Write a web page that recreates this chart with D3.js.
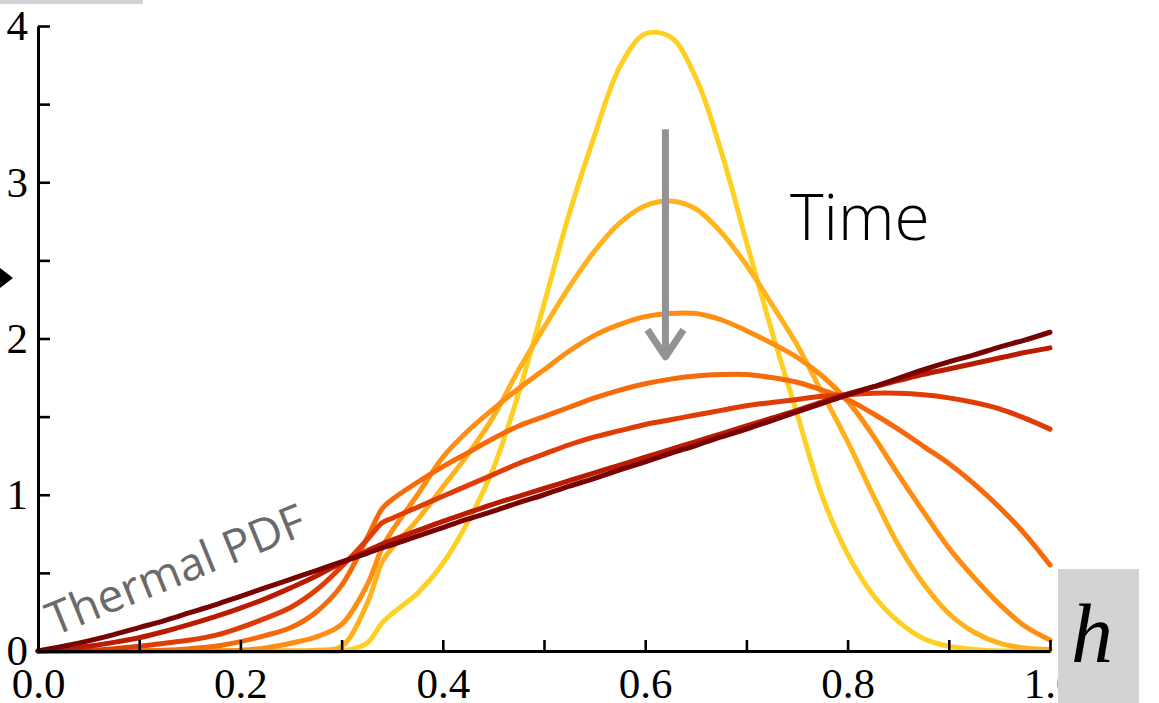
<!DOCTYPE html>
<html>
<head>
<meta charset="utf-8">
<script src="https://cdn.jsdelivr.net/npm/d3@7"></script>
<style>
  html, body { margin: 0; padding: 0; background: #fff; }
  svg { display: block; }
</style>
</head>
<body>
<svg id="chart" width="1159" height="703"></svg>
<script>
// Sample positions along h (extra point at the kink near h = 0.34)
const hValues = [0, 0.025, 0.05, 0.075, 0.1, 0.125, 0.15, 0.175, 0.2, 0.225, 0.25, 0.275, 0.3, 0.325, 0.34,
  0.35, 0.375, 0.4, 0.425, 0.45, 0.475, 0.5, 0.525, 0.55, 0.575, 0.6, 0.625, 0.65, 0.675, 0.7, 0.725,
  0.75, 0.775, 0.8, 0.825, 0.85, 0.875, 0.9, 0.925, 0.95, 0.975, 1.0];

// Probability density at successive times (earliest first, thermal last)
const pdf0 = [0, 0, 0, 0, 0, 0, 0, 0, 0, 0, 0, 0, 0, 0.05, 0.18,
  0.24, 0.37, 0.56, 0.83, 1.17, 1.65, 2.22, 2.8, 3.3, 3.74, 3.95, 3.93, 3.67, 3.2, 2.62, 2.05,
  1.52, 0.99, 0.62, 0.36, 0.19, 0.08, 0.03, 0.01, 0, 0, 0];
const pdf1 = [0, 0, 0, 0, 0, 0, 0, 0, 0, 0, 0, 0.005, 0.03, 0.3, 0.57,
  0.66, 0.84, 1.05, 1.26, 1.5, 1.8, 2.07, 2.33, 2.56, 2.74, 2.85, 2.88, 2.83, 2.68, 2.47, 2.22,
  1.96, 1.65, 1.34, 1.0, 0.68, 0.43, 0.24, 0.12, 0.05, 0.02, 0.01];
const pdf2 = [0, 0, 0, 0, 0, 0, 0, 0, 0.005, 0.02, 0.05, 0.09, 0.17, 0.42, 0.66,
  0.77, 1.0, 1.24, 1.41, 1.55, 1.68, 1.8, 1.92, 2.02, 2.09, 2.14, 2.16, 2.16, 2.12, 2.05, 1.97,
  1.88, 1.76, 1.6, 1.38, 1.13, 0.89, 0.66, 0.47, 0.3, 0.16, 0.07];
const pdf3 = [0, 0, 0, 0, 0, 0.005, 0.015, 0.03, 0.06, 0.1, 0.15, 0.25, 0.42, 0.72, 0.91,
  0.97, 1.08, 1.18, 1.27, 1.36, 1.44, 1.5, 1.56, 1.62, 1.67, 1.71, 1.74, 1.76, 1.77, 1.77, 1.75,
  1.72, 1.67, 1.61, 1.52, 1.42, 1.31, 1.2, 1.07, 0.92, 0.75, 0.55];
const pdf4 = [0, 0, 0.005, 0.015, 0.03, 0.05, 0.07, 0.1, 0.15, 0.21, 0.28, 0.39, 0.54, 0.71, 0.82,
  0.85, 0.92, 0.99, 1.06, 1.13, 1.2, 1.26, 1.32, 1.37, 1.41, 1.45, 1.48, 1.51, 1.54, 1.57, 1.59,
  1.61, 1.63, 1.64, 1.65, 1.65, 1.64, 1.62, 1.59, 1.55, 1.49, 1.42];
const pdf5 = [0, 0.01, 0.03, 0.055, 0.085, 0.125, 0.17, 0.22, 0.275, 0.335, 0.405, 0.48, 0.565, 0.64, 0.685,
  0.71, 0.77, 0.83, 0.885, 0.94, 0.99, 1.04, 1.09, 1.14, 1.19, 1.24, 1.29, 1.34, 1.39, 1.44, 1.49,
  1.54, 1.595, 1.645, 1.69, 1.73, 1.77, 1.805, 1.84, 1.875, 1.91, 1.94];
const pdf6 = [0, 0.03, 0.065, 0.105, 0.15, 0.195, 0.245, 0.295, 0.35, 0.405, 0.46, 0.515, 0.57, 0.625, 0.66,
  0.68, 0.735, 0.79, 0.845, 0.895, 0.95, 1.0, 1.055, 1.105, 1.16, 1.21, 1.265, 1.315, 1.37, 1.42, 1.475,
  1.53, 1.585, 1.64, 1.69, 1.745, 1.8, 1.85, 1.895, 1.945, 1.99, 2.04];

const pdfSeries = [pdf0, pdf1, pdf2, pdf3, pdf4, pdf5, pdf6];
const seriesColors = ["#ffd024", "#ffb21c", "#fe8d12", "#f66a0b", "#e03d06", "#ba1c02", "#780303"];

// Axis ticks
const xTicks = [0, 0.1, 0.2, 0.3, 0.4, 0.5, 0.6, 0.7, 0.8, 0.9, 1.0];
const xTickLabels = ["0.0", "", "0.2", "", "0.4", "", "0.6", "", "0.8", "", "1.0"];
const yTicks = [0, 0.5, 1, 1.5, 2, 2.5, 3, 3.5, 4];
const yTickLabels = ["0", "", "1", "", "2", "", "3", "", "4"];

const svg = d3.select("#chart");

const x = d3.scaleLinear().domain([0, 1]).range([38, 1050]);
const y = d3.scaleLinear().domain([0, 4]).range([651, 26]);

// Grey strip along the top-left edge and the small black pointer on the left
svg.append("rect").attr("x", 0).attr("y", 0).attr("width", 143).attr("height", 4).attr("fill", "#d3d3d3");
svg.append("path").attr("d", "M0,268 L13,278 L0,288 Z").attr("fill", "#000");

// Curves
const line = d3.line()
  .x((d, i) => x(hValues[i]))
  .y(d => y(d))
  .curve(d3.curveCatmullRom.alpha(0.5));

svg.append("g").selectAll("path")
  .data(pdfSeries)
  .join("path")
  .attr("d", d => line(d))
  .attr("fill", "none")
  .attr("stroke", (d, i) => seriesColors[i])
  .attr("stroke-width", 5)
  .attr("stroke-linecap", "round")
  .attr("stroke-linejoin", "round");

// Axes (ticks point inward)
const xAxis = d3.axisBottom(x)
  .tickValues(xTicks)
  .tickFormat((d, i) => xTickLabels[i])
  .tickSizeInner(-11)
  .tickSizeOuter(0)
  .tickPadding(16);

const yAxis = d3.axisLeft(y)
  .tickValues(yTicks)
  .tickFormat((d, i) => yTickLabels[i])
  .tickSizeInner(-12)
  .tickSizeOuter(0)
  .tickPadding(10);

function styleAxis(g) {
  g.select(".domain").attr("stroke", "#000").attr("stroke-width", 3);
  g.selectAll(".tick line").attr("stroke", "#000").attr("stroke-width", 2.6);
  g.selectAll(".tick text")
    .attr("fill", "#000")
    .style("font-family", "'Liberation Serif', 'Times New Roman', serif")
    .style("font-size", "43px");
}

svg.append("g").attr("transform", `translate(0,${y(0)})`).call(xAxis).call(styleAxis);
svg.append("g").attr("transform", `translate(${x(0)},0)`).call(yAxis).call(styleAxis);

// Time arrow
const arrowH = 0.62, arrowTop = 3.34, arrowTip = 1.87;
const tipX = x(arrowH), tipY = y(arrowTip);
svg.append("line")
  .attr("x1", tipX).attr("y1", y(arrowTop))
  .attr("x2", tipX).attr("y2", tipY - 3)
  .attr("stroke", "#939393").attr("stroke-width", 7);
svg.append("path")
  .attr("d", `M${tipX - 18},${tipY - 29} L${tipX},${tipY - 2} L${tipX + 18},${tipY - 29}`)
  .attr("fill", "none")
  .attr("stroke", "#939393").attr("stroke-width", 7)
  .attr("stroke-linejoin", "round");

svg.append("text")
  .attr("x", x(0.743)).attr("y", y(2.63))
  .style("font-family", "'Open Sans', Lato, sans-serif")
  .style("font-weight", 300)
  .style("font-size", "64px")
  .attr("fill", "#000")
  .text("Time");

// Thermal curve label
svg.append("text")
  .attr("transform", `translate(${x(0.016)},${y(0.095)}) rotate(-22)`)
  .style("font-family", "'Open Sans', Lato, sans-serif")
  .style("font-size", "46px")
  .attr("fill", "#6a6a6a")
  .text("Thermal PDF");

// Axis variable box
svg.append("rect").attr("x", 1058).attr("y", 569).attr("width", 81).attr("height", 134).attr("fill", "#d3d3d3");
svg.append("text")
  .attr("x", 1092).attr("y", 662)
  .attr("text-anchor", "middle")
  .style("font-family", "'Liberation Serif', 'Times New Roman', serif")
  .style("font-style", "italic")
  .style("font-size", "84px")
  .attr("fill", "#000")
  .text("h");
</script>
</body>
</html>
